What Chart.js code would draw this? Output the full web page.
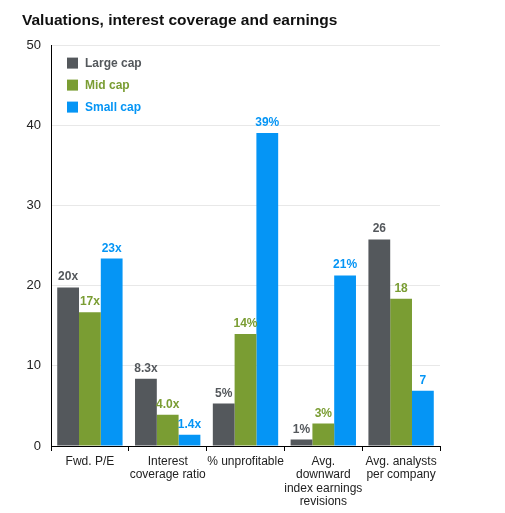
<!DOCTYPE html>
<html>
<head>
<meta charset="utf-8">
<script src="https://cdn.jsdelivr.net/npm/chart.js@4.4.1/dist/chart.umd.min.js"></script>
<style>
    html, body { margin: 0; padding: 0; background: #fff; }
    #wrap { width: 505px; height: 513px; }
</style>
</head>
<body>
<div id="wrap"><canvas id="valuationChart"></canvas></div>
<script>
// data
const categories = [
    `Fwd. P/E`,
    [`Interest`, `coverage ratio`],
    `% unprofitable`,
    [`Avg.`, `downward`, `index earnings`, `revisions`],
    [`Avg. analysts`, `per company`]
]
const seriesNames = [`Large cap`, `Mid cap`, `Small cap`]
const largeCap = [19.8, 8.4, 5.3, 0.8, 25.8]
const midCap = [16.7, 3.9, 14.0, 2.8, 18.4]
const smallCap = [23.4, 1.4, 39.1, 21.3, 6.9]
const largeLabels = [`20x`, `8.3x`, `5%`, `1%`, `26`]
const midLabels = [`17x`, `4.0x`, `14%`, `3%`, `18`]
const smallLabels = [`23x`, `1.4x`, `39%`, `21%`, `7`]
const yTicks = [0, 10, 20, 30, 40, 50]
//
const seriesColors = [`#54585c`, `#7a9d33`, `#0595f5`]
const fontFamily = `"Liberation Sans", Arial, sans-serif`
const valueLabels = [largeLabels, midLabels, smallLabels]

// labels on top of each bar
const barLabels = {
    id: `barLabels`,
    afterDatasetsDraw(chart) {
        const ctx = chart.ctx;
        ctx.save();
        ctx.font = `bold 12px ${fontFamily}`;
        ctx.textAlign = `center`;
        ctx.textBaseline = `alphabetic`;
        chart.data.datasets.forEach((ds, i) => {
            ctx.fillStyle = seriesColors[i];
            chart.getDatasetMeta(i).data.forEach((bar, j) => {
                ctx.fillText(valueLabels[i][j], bar.x, bar.y - 7);
            })
        })
        ctx.restore();
    }
}

// legend drawn inside the plot, top left
const insideLegend = {
    id: `insideLegend`,
    afterDraw(chart) {
        const ctx = chart.ctx;
        const area = chart.chartArea;
        ctx.save();
        ctx.font = `bold 12px ${fontFamily}`;
        ctx.textBaseline = `middle`;
        seriesNames.forEach((name, i) => {
            const y = area.top + 17 + i * 22;
            ctx.fillStyle = seriesColors[i];
            ctx.fillRect(area.left + 16, y - 5, 11, 11);
            ctx.fillText(name, area.left + 34, y + 1);
        })
        ctx.restore();
    }
}

new Chart(`valuationChart`, {
    type: `bar`,
    data: {
        labels: categories,
        datasets: [
            { label: seriesNames[0], data: largeCap, backgroundColor: seriesColors[0] },
            { label: seriesNames[1], data: midCap, backgroundColor: seriesColors[1] },
            { label: seriesNames[2], data: smallCap, backgroundColor: seriesColors[2] }
        ]
    },
    options: {
        responsive: true,
        maintainAspectRatio: false,
        animation: false,
        layout: { padding: { left: 22, right: 65, top: 0, bottom: 0 } },
        datasets: { bar: { categoryPercentage: 0.84, barPercentage: 1.0 } },
        plugins: {
            legend: { display: false },
            tooltip: { enabled: false },
            title: {
                display: true,
                text: `Valuations, interest coverage and earnings`,
                align: `start`,
                color: `#111`,
                font: { family: fontFamily, size: 15.5, weight: `bold`, lineHeight: 1.2 },
                padding: { top: 11, bottom: 16 }
            }
        },
        scales: {
            x: {
                grid: { drawOnChartArea: false, drawTicks: true, tickLength: 5, color: `#000` },
                border: { color: `#000`, width: 1 },
                ticks: {
                    color: `#222`,
                    padding: 4,
                    maxRotation: 0,
                    autoSkip: false,
                    font: { family: fontFamily, size: 12, lineHeight: 1.12 }
                },
                afterFit: scale => { scale.height = 67; }
            },
            y: {
                min: yTicks[0],
                max: yTicks[yTicks.length - 1],
                afterBuildTicks: scale => { scale.ticks = yTicks.map(v => ({ value: v })); },
                grid: { color: `#e8e8e8`, drawTicks: false },
                border: { color: `#000`, width: 1 },
                ticks: {
                    color: `#222`,
                    padding: 10,
                    font: { family: fontFamily, size: 13 }
                },
                afterFit: scale => { scale.width = 29; }
            }
        }
    },
    plugins: [barLabels, insideLegend]
});
</script>
</body>
</html>
